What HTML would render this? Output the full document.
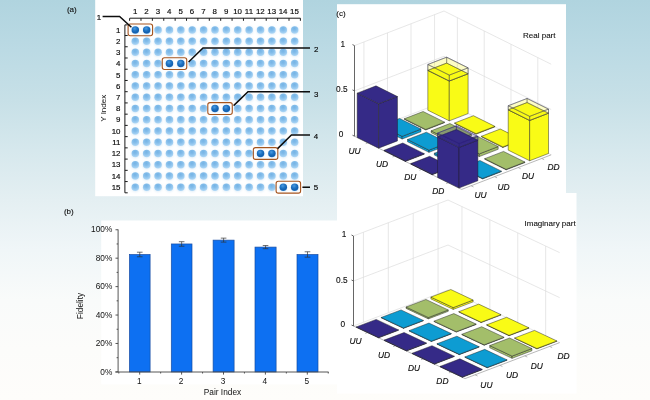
<!DOCTYPE html>
<html><head><meta charset="utf-8"><title>Figure</title>
<style>
html,body{margin:0;padding:0;background:#fff;}
body{width:650px;height:400px;overflow:hidden;font-family:"Liberation Sans",sans-serif;}
svg{display:block;}
</style></head><body>
<svg width="650" height="400" viewBox="0 0 650 400" font-family="'Liberation Sans', sans-serif">
<defs>
<linearGradient id="bg" x1="0" y1="0" x2="0" y2="1">
<stop offset="0" stop-color="#b0d4df"/>
<stop offset="0.125" stop-color="#bbdae4"/>
<stop offset="0.25" stop-color="#c7e0e7"/>
<stop offset="0.375" stop-color="#d6e8ed"/>
<stop offset="0.5" stop-color="#e4eff2"/>
<stop offset="0.625" stop-color="#f0f6f8"/>
<stop offset="0.75" stop-color="#f9fbfa"/>
<stop offset="0.875" stop-color="#fcfcfa"/>
<stop offset="1" stop-color="#fefdfa"/>
</linearGradient>
<radialGradient id="cl" cx="0.45" cy="0.3" r="0.8">
<stop offset="0" stop-color="#74b3e5"/>
<stop offset="0.35" stop-color="#84bdea"/>
<stop offset="0.7" stop-color="#9fcef2"/>
<stop offset="1" stop-color="#c0e0f8"/>
</radialGradient>
<radialGradient id="cd" cx="0.42" cy="0.32" r="0.7">
<stop offset="0" stop-color="#4a9be2"/>
<stop offset="0.45" stop-color="#1f73c3"/>
<stop offset="0.8" stop-color="#1560ae"/>
<stop offset="1" stop-color="#2b7ac8"/>
</radialGradient>
<filter id="blur" x="-50%" y="-50%" width="200%" height="200%"><feGaussianBlur stdDeviation="0.9"/></filter>
<filter id="soft" filterUnits="userSpaceOnUse" x="-10" y="-10" width="670" height="420"><feGaussianBlur stdDeviation="0.38"/></filter>
</defs>
<rect x="0" y="0" width="650" height="400" fill="url(#bg)"/>
<g filter="url(#soft)">
<rect x="95.2" y="-6" width="207.8" height="202.2" fill="#fff"/>
<rect x="337" y="4.2" width="229" height="190" fill="#fff"/>
<rect x="101.2" y="220.5" width="236" height="163.8" fill="#fff"/>
<rect x="337" y="193" width="239.5" height="200.5" fill="#fff"/>
<g font-size="7.6" fill="#111" stroke="#111" stroke-width="0.12">
<text x="71.8" y="12" text-anchor="middle" font-size="8">(a)</text>
<text x="68.8" y="214" text-anchor="middle" font-size="8">(b)</text>
<text x="341" y="15.5" text-anchor="middle" font-size="8">(c)</text>
</g>
<g filter="url(#blur)" fill="#c3def3" opacity="0.5">
<circle cx="135.3" cy="30.5" r="4.1"/>
<circle cx="146.69" cy="30.5" r="4.1"/>
<circle cx="158.07" cy="30.5" r="4.1"/>
<circle cx="169.46" cy="30.5" r="4.1"/>
<circle cx="180.84" cy="30.5" r="4.1"/>
<circle cx="192.23" cy="30.5" r="4.1"/>
<circle cx="203.61" cy="30.5" r="4.1"/>
<circle cx="215" cy="30.5" r="4.1"/>
<circle cx="226.38" cy="30.5" r="4.1"/>
<circle cx="237.77" cy="30.5" r="4.1"/>
<circle cx="249.15" cy="30.5" r="4.1"/>
<circle cx="260.54" cy="30.5" r="4.1"/>
<circle cx="271.92" cy="30.5" r="4.1"/>
<circle cx="283.31" cy="30.5" r="4.1"/>
<circle cx="294.69" cy="30.5" r="4.1"/>
<circle cx="135.3" cy="41.73" r="4.1"/>
<circle cx="146.69" cy="41.73" r="4.1"/>
<circle cx="158.07" cy="41.73" r="4.1"/>
<circle cx="169.46" cy="41.73" r="4.1"/>
<circle cx="180.84" cy="41.73" r="4.1"/>
<circle cx="192.23" cy="41.73" r="4.1"/>
<circle cx="203.61" cy="41.73" r="4.1"/>
<circle cx="215" cy="41.73" r="4.1"/>
<circle cx="226.38" cy="41.73" r="4.1"/>
<circle cx="237.77" cy="41.73" r="4.1"/>
<circle cx="249.15" cy="41.73" r="4.1"/>
<circle cx="260.54" cy="41.73" r="4.1"/>
<circle cx="271.92" cy="41.73" r="4.1"/>
<circle cx="283.31" cy="41.73" r="4.1"/>
<circle cx="294.69" cy="41.73" r="4.1"/>
<circle cx="135.3" cy="52.97" r="4.1"/>
<circle cx="146.69" cy="52.97" r="4.1"/>
<circle cx="158.07" cy="52.97" r="4.1"/>
<circle cx="169.46" cy="52.97" r="4.1"/>
<circle cx="180.84" cy="52.97" r="4.1"/>
<circle cx="192.23" cy="52.97" r="4.1"/>
<circle cx="203.61" cy="52.97" r="4.1"/>
<circle cx="215" cy="52.97" r="4.1"/>
<circle cx="226.38" cy="52.97" r="4.1"/>
<circle cx="237.77" cy="52.97" r="4.1"/>
<circle cx="249.15" cy="52.97" r="4.1"/>
<circle cx="260.54" cy="52.97" r="4.1"/>
<circle cx="271.92" cy="52.97" r="4.1"/>
<circle cx="283.31" cy="52.97" r="4.1"/>
<circle cx="294.69" cy="52.97" r="4.1"/>
<circle cx="135.3" cy="64.2" r="4.1"/>
<circle cx="146.69" cy="64.2" r="4.1"/>
<circle cx="158.07" cy="64.2" r="4.1"/>
<circle cx="169.46" cy="64.2" r="4.1"/>
<circle cx="180.84" cy="64.2" r="4.1"/>
<circle cx="192.23" cy="64.2" r="4.1"/>
<circle cx="203.61" cy="64.2" r="4.1"/>
<circle cx="215" cy="64.2" r="4.1"/>
<circle cx="226.38" cy="64.2" r="4.1"/>
<circle cx="237.77" cy="64.2" r="4.1"/>
<circle cx="249.15" cy="64.2" r="4.1"/>
<circle cx="260.54" cy="64.2" r="4.1"/>
<circle cx="271.92" cy="64.2" r="4.1"/>
<circle cx="283.31" cy="64.2" r="4.1"/>
<circle cx="294.69" cy="64.2" r="4.1"/>
<circle cx="135.3" cy="75.44" r="4.1"/>
<circle cx="146.69" cy="75.44" r="4.1"/>
<circle cx="158.07" cy="75.44" r="4.1"/>
<circle cx="169.46" cy="75.44" r="4.1"/>
<circle cx="180.84" cy="75.44" r="4.1"/>
<circle cx="192.23" cy="75.44" r="4.1"/>
<circle cx="203.61" cy="75.44" r="4.1"/>
<circle cx="215" cy="75.44" r="4.1"/>
<circle cx="226.38" cy="75.44" r="4.1"/>
<circle cx="237.77" cy="75.44" r="4.1"/>
<circle cx="249.15" cy="75.44" r="4.1"/>
<circle cx="260.54" cy="75.44" r="4.1"/>
<circle cx="271.92" cy="75.44" r="4.1"/>
<circle cx="283.31" cy="75.44" r="4.1"/>
<circle cx="294.69" cy="75.44" r="4.1"/>
<circle cx="135.3" cy="86.67" r="4.1"/>
<circle cx="146.69" cy="86.67" r="4.1"/>
<circle cx="158.07" cy="86.67" r="4.1"/>
<circle cx="169.46" cy="86.67" r="4.1"/>
<circle cx="180.84" cy="86.67" r="4.1"/>
<circle cx="192.23" cy="86.67" r="4.1"/>
<circle cx="203.61" cy="86.67" r="4.1"/>
<circle cx="215" cy="86.67" r="4.1"/>
<circle cx="226.38" cy="86.67" r="4.1"/>
<circle cx="237.77" cy="86.67" r="4.1"/>
<circle cx="249.15" cy="86.67" r="4.1"/>
<circle cx="260.54" cy="86.67" r="4.1"/>
<circle cx="271.92" cy="86.67" r="4.1"/>
<circle cx="283.31" cy="86.67" r="4.1"/>
<circle cx="294.69" cy="86.67" r="4.1"/>
<circle cx="135.3" cy="97.91" r="4.1"/>
<circle cx="146.69" cy="97.91" r="4.1"/>
<circle cx="158.07" cy="97.91" r="4.1"/>
<circle cx="169.46" cy="97.91" r="4.1"/>
<circle cx="180.84" cy="97.91" r="4.1"/>
<circle cx="192.23" cy="97.91" r="4.1"/>
<circle cx="203.61" cy="97.91" r="4.1"/>
<circle cx="215" cy="97.91" r="4.1"/>
<circle cx="226.38" cy="97.91" r="4.1"/>
<circle cx="237.77" cy="97.91" r="4.1"/>
<circle cx="249.15" cy="97.91" r="4.1"/>
<circle cx="260.54" cy="97.91" r="4.1"/>
<circle cx="271.92" cy="97.91" r="4.1"/>
<circle cx="283.31" cy="97.91" r="4.1"/>
<circle cx="294.69" cy="97.91" r="4.1"/>
<circle cx="135.3" cy="109.14" r="4.1"/>
<circle cx="146.69" cy="109.14" r="4.1"/>
<circle cx="158.07" cy="109.14" r="4.1"/>
<circle cx="169.46" cy="109.14" r="4.1"/>
<circle cx="180.84" cy="109.14" r="4.1"/>
<circle cx="192.23" cy="109.14" r="4.1"/>
<circle cx="203.61" cy="109.14" r="4.1"/>
<circle cx="215" cy="109.14" r="4.1"/>
<circle cx="226.38" cy="109.14" r="4.1"/>
<circle cx="237.77" cy="109.14" r="4.1"/>
<circle cx="249.15" cy="109.14" r="4.1"/>
<circle cx="260.54" cy="109.14" r="4.1"/>
<circle cx="271.92" cy="109.14" r="4.1"/>
<circle cx="283.31" cy="109.14" r="4.1"/>
<circle cx="294.69" cy="109.14" r="4.1"/>
<circle cx="135.3" cy="120.38" r="4.1"/>
<circle cx="146.69" cy="120.38" r="4.1"/>
<circle cx="158.07" cy="120.38" r="4.1"/>
<circle cx="169.46" cy="120.38" r="4.1"/>
<circle cx="180.84" cy="120.38" r="4.1"/>
<circle cx="192.23" cy="120.38" r="4.1"/>
<circle cx="203.61" cy="120.38" r="4.1"/>
<circle cx="215" cy="120.38" r="4.1"/>
<circle cx="226.38" cy="120.38" r="4.1"/>
<circle cx="237.77" cy="120.38" r="4.1"/>
<circle cx="249.15" cy="120.38" r="4.1"/>
<circle cx="260.54" cy="120.38" r="4.1"/>
<circle cx="271.92" cy="120.38" r="4.1"/>
<circle cx="283.31" cy="120.38" r="4.1"/>
<circle cx="294.69" cy="120.38" r="4.1"/>
<circle cx="135.3" cy="131.61" r="4.1"/>
<circle cx="146.69" cy="131.61" r="4.1"/>
<circle cx="158.07" cy="131.61" r="4.1"/>
<circle cx="169.46" cy="131.61" r="4.1"/>
<circle cx="180.84" cy="131.61" r="4.1"/>
<circle cx="192.23" cy="131.61" r="4.1"/>
<circle cx="203.61" cy="131.61" r="4.1"/>
<circle cx="215" cy="131.61" r="4.1"/>
<circle cx="226.38" cy="131.61" r="4.1"/>
<circle cx="237.77" cy="131.61" r="4.1"/>
<circle cx="249.15" cy="131.61" r="4.1"/>
<circle cx="260.54" cy="131.61" r="4.1"/>
<circle cx="271.92" cy="131.61" r="4.1"/>
<circle cx="283.31" cy="131.61" r="4.1"/>
<circle cx="294.69" cy="131.61" r="4.1"/>
<circle cx="135.3" cy="142.85" r="4.1"/>
<circle cx="146.69" cy="142.85" r="4.1"/>
<circle cx="158.07" cy="142.85" r="4.1"/>
<circle cx="169.46" cy="142.85" r="4.1"/>
<circle cx="180.84" cy="142.85" r="4.1"/>
<circle cx="192.23" cy="142.85" r="4.1"/>
<circle cx="203.61" cy="142.85" r="4.1"/>
<circle cx="215" cy="142.85" r="4.1"/>
<circle cx="226.38" cy="142.85" r="4.1"/>
<circle cx="237.77" cy="142.85" r="4.1"/>
<circle cx="249.15" cy="142.85" r="4.1"/>
<circle cx="260.54" cy="142.85" r="4.1"/>
<circle cx="271.92" cy="142.85" r="4.1"/>
<circle cx="283.31" cy="142.85" r="4.1"/>
<circle cx="294.69" cy="142.85" r="4.1"/>
<circle cx="135.3" cy="154.08" r="4.1"/>
<circle cx="146.69" cy="154.08" r="4.1"/>
<circle cx="158.07" cy="154.08" r="4.1"/>
<circle cx="169.46" cy="154.08" r="4.1"/>
<circle cx="180.84" cy="154.08" r="4.1"/>
<circle cx="192.23" cy="154.08" r="4.1"/>
<circle cx="203.61" cy="154.08" r="4.1"/>
<circle cx="215" cy="154.08" r="4.1"/>
<circle cx="226.38" cy="154.08" r="4.1"/>
<circle cx="237.77" cy="154.08" r="4.1"/>
<circle cx="249.15" cy="154.08" r="4.1"/>
<circle cx="260.54" cy="154.08" r="4.1"/>
<circle cx="271.92" cy="154.08" r="4.1"/>
<circle cx="283.31" cy="154.08" r="4.1"/>
<circle cx="294.69" cy="154.08" r="4.1"/>
<circle cx="135.3" cy="165.32" r="4.1"/>
<circle cx="146.69" cy="165.32" r="4.1"/>
<circle cx="158.07" cy="165.32" r="4.1"/>
<circle cx="169.46" cy="165.32" r="4.1"/>
<circle cx="180.84" cy="165.32" r="4.1"/>
<circle cx="192.23" cy="165.32" r="4.1"/>
<circle cx="203.61" cy="165.32" r="4.1"/>
<circle cx="215" cy="165.32" r="4.1"/>
<circle cx="226.38" cy="165.32" r="4.1"/>
<circle cx="237.77" cy="165.32" r="4.1"/>
<circle cx="249.15" cy="165.32" r="4.1"/>
<circle cx="260.54" cy="165.32" r="4.1"/>
<circle cx="271.92" cy="165.32" r="4.1"/>
<circle cx="283.31" cy="165.32" r="4.1"/>
<circle cx="294.69" cy="165.32" r="4.1"/>
<circle cx="135.3" cy="176.56" r="4.1"/>
<circle cx="146.69" cy="176.56" r="4.1"/>
<circle cx="158.07" cy="176.56" r="4.1"/>
<circle cx="169.46" cy="176.56" r="4.1"/>
<circle cx="180.84" cy="176.56" r="4.1"/>
<circle cx="192.23" cy="176.56" r="4.1"/>
<circle cx="203.61" cy="176.56" r="4.1"/>
<circle cx="215" cy="176.56" r="4.1"/>
<circle cx="226.38" cy="176.56" r="4.1"/>
<circle cx="237.77" cy="176.56" r="4.1"/>
<circle cx="249.15" cy="176.56" r="4.1"/>
<circle cx="260.54" cy="176.56" r="4.1"/>
<circle cx="271.92" cy="176.56" r="4.1"/>
<circle cx="283.31" cy="176.56" r="4.1"/>
<circle cx="294.69" cy="176.56" r="4.1"/>
<circle cx="135.3" cy="187.79" r="4.1"/>
<circle cx="146.69" cy="187.79" r="4.1"/>
<circle cx="158.07" cy="187.79" r="4.1"/>
<circle cx="169.46" cy="187.79" r="4.1"/>
<circle cx="180.84" cy="187.79" r="4.1"/>
<circle cx="192.23" cy="187.79" r="4.1"/>
<circle cx="203.61" cy="187.79" r="4.1"/>
<circle cx="215" cy="187.79" r="4.1"/>
<circle cx="226.38" cy="187.79" r="4.1"/>
<circle cx="237.77" cy="187.79" r="4.1"/>
<circle cx="249.15" cy="187.79" r="4.1"/>
<circle cx="260.54" cy="187.79" r="4.1"/>
<circle cx="271.92" cy="187.79" r="4.1"/>
<circle cx="283.31" cy="187.79" r="4.1"/>
<circle cx="294.69" cy="187.79" r="4.1"/>
</g>
<circle cx="135.3" cy="29.9" r="3.75" fill="url(#cd)"/>
<circle cx="146.69" cy="29.9" r="3.75" fill="url(#cd)"/>
<circle cx="158.07" cy="29.9" r="3.75" fill="url(#cl)"/>
<circle cx="169.46" cy="29.9" r="3.75" fill="url(#cl)"/>
<circle cx="180.84" cy="29.9" r="3.75" fill="url(#cl)"/>
<circle cx="192.23" cy="29.9" r="3.75" fill="url(#cl)"/>
<circle cx="203.61" cy="29.9" r="3.75" fill="url(#cl)"/>
<circle cx="215" cy="29.9" r="3.75" fill="url(#cl)"/>
<circle cx="226.38" cy="29.9" r="3.75" fill="url(#cl)"/>
<circle cx="237.77" cy="29.9" r="3.75" fill="url(#cl)"/>
<circle cx="249.15" cy="29.9" r="3.75" fill="url(#cl)"/>
<circle cx="260.54" cy="29.9" r="3.75" fill="url(#cl)"/>
<circle cx="271.92" cy="29.9" r="3.75" fill="url(#cl)"/>
<circle cx="283.31" cy="29.9" r="3.75" fill="url(#cl)"/>
<circle cx="294.69" cy="29.9" r="3.75" fill="url(#cl)"/>
<circle cx="135.3" cy="41.13" r="3.75" fill="url(#cl)"/>
<circle cx="146.69" cy="41.13" r="3.75" fill="url(#cl)"/>
<circle cx="158.07" cy="41.13" r="3.75" fill="url(#cl)"/>
<circle cx="169.46" cy="41.13" r="3.75" fill="url(#cl)"/>
<circle cx="180.84" cy="41.13" r="3.75" fill="url(#cl)"/>
<circle cx="192.23" cy="41.13" r="3.75" fill="url(#cl)"/>
<circle cx="203.61" cy="41.13" r="3.75" fill="url(#cl)"/>
<circle cx="215" cy="41.13" r="3.75" fill="url(#cl)"/>
<circle cx="226.38" cy="41.13" r="3.75" fill="url(#cl)"/>
<circle cx="237.77" cy="41.13" r="3.75" fill="url(#cl)"/>
<circle cx="249.15" cy="41.13" r="3.75" fill="url(#cl)"/>
<circle cx="260.54" cy="41.13" r="3.75" fill="url(#cl)"/>
<circle cx="271.92" cy="41.13" r="3.75" fill="url(#cl)"/>
<circle cx="283.31" cy="41.13" r="3.75" fill="url(#cl)"/>
<circle cx="294.69" cy="41.13" r="3.75" fill="url(#cl)"/>
<circle cx="135.3" cy="52.37" r="3.75" fill="url(#cl)"/>
<circle cx="146.69" cy="52.37" r="3.75" fill="url(#cl)"/>
<circle cx="158.07" cy="52.37" r="3.75" fill="url(#cl)"/>
<circle cx="169.46" cy="52.37" r="3.75" fill="url(#cl)"/>
<circle cx="180.84" cy="52.37" r="3.75" fill="url(#cl)"/>
<circle cx="192.23" cy="52.37" r="3.75" fill="url(#cl)"/>
<circle cx="203.61" cy="52.37" r="3.75" fill="url(#cl)"/>
<circle cx="215" cy="52.37" r="3.75" fill="url(#cl)"/>
<circle cx="226.38" cy="52.37" r="3.75" fill="url(#cl)"/>
<circle cx="237.77" cy="52.37" r="3.75" fill="url(#cl)"/>
<circle cx="249.15" cy="52.37" r="3.75" fill="url(#cl)"/>
<circle cx="260.54" cy="52.37" r="3.75" fill="url(#cl)"/>
<circle cx="271.92" cy="52.37" r="3.75" fill="url(#cl)"/>
<circle cx="283.31" cy="52.37" r="3.75" fill="url(#cl)"/>
<circle cx="294.69" cy="52.37" r="3.75" fill="url(#cl)"/>
<circle cx="135.3" cy="63.6" r="3.75" fill="url(#cl)"/>
<circle cx="146.69" cy="63.6" r="3.75" fill="url(#cl)"/>
<circle cx="158.07" cy="63.6" r="3.75" fill="url(#cl)"/>
<circle cx="169.46" cy="63.6" r="3.75" fill="url(#cd)"/>
<circle cx="180.84" cy="63.6" r="3.75" fill="url(#cd)"/>
<circle cx="192.23" cy="63.6" r="3.75" fill="url(#cl)"/>
<circle cx="203.61" cy="63.6" r="3.75" fill="url(#cl)"/>
<circle cx="215" cy="63.6" r="3.75" fill="url(#cl)"/>
<circle cx="226.38" cy="63.6" r="3.75" fill="url(#cl)"/>
<circle cx="237.77" cy="63.6" r="3.75" fill="url(#cl)"/>
<circle cx="249.15" cy="63.6" r="3.75" fill="url(#cl)"/>
<circle cx="260.54" cy="63.6" r="3.75" fill="url(#cl)"/>
<circle cx="271.92" cy="63.6" r="3.75" fill="url(#cl)"/>
<circle cx="283.31" cy="63.6" r="3.75" fill="url(#cl)"/>
<circle cx="294.69" cy="63.6" r="3.75" fill="url(#cl)"/>
<circle cx="135.3" cy="74.84" r="3.75" fill="url(#cl)"/>
<circle cx="146.69" cy="74.84" r="3.75" fill="url(#cl)"/>
<circle cx="158.07" cy="74.84" r="3.75" fill="url(#cl)"/>
<circle cx="169.46" cy="74.84" r="3.75" fill="url(#cl)"/>
<circle cx="180.84" cy="74.84" r="3.75" fill="url(#cl)"/>
<circle cx="192.23" cy="74.84" r="3.75" fill="url(#cl)"/>
<circle cx="203.61" cy="74.84" r="3.75" fill="url(#cl)"/>
<circle cx="215" cy="74.84" r="3.75" fill="url(#cl)"/>
<circle cx="226.38" cy="74.84" r="3.75" fill="url(#cl)"/>
<circle cx="237.77" cy="74.84" r="3.75" fill="url(#cl)"/>
<circle cx="249.15" cy="74.84" r="3.75" fill="url(#cl)"/>
<circle cx="260.54" cy="74.84" r="3.75" fill="url(#cl)"/>
<circle cx="271.92" cy="74.84" r="3.75" fill="url(#cl)"/>
<circle cx="283.31" cy="74.84" r="3.75" fill="url(#cl)"/>
<circle cx="294.69" cy="74.84" r="3.75" fill="url(#cl)"/>
<circle cx="135.3" cy="86.07" r="3.75" fill="url(#cl)"/>
<circle cx="146.69" cy="86.07" r="3.75" fill="url(#cl)"/>
<circle cx="158.07" cy="86.07" r="3.75" fill="url(#cl)"/>
<circle cx="169.46" cy="86.07" r="3.75" fill="url(#cl)"/>
<circle cx="180.84" cy="86.07" r="3.75" fill="url(#cl)"/>
<circle cx="192.23" cy="86.07" r="3.75" fill="url(#cl)"/>
<circle cx="203.61" cy="86.07" r="3.75" fill="url(#cl)"/>
<circle cx="215" cy="86.07" r="3.75" fill="url(#cl)"/>
<circle cx="226.38" cy="86.07" r="3.75" fill="url(#cl)"/>
<circle cx="237.77" cy="86.07" r="3.75" fill="url(#cl)"/>
<circle cx="249.15" cy="86.07" r="3.75" fill="url(#cl)"/>
<circle cx="260.54" cy="86.07" r="3.75" fill="url(#cl)"/>
<circle cx="271.92" cy="86.07" r="3.75" fill="url(#cl)"/>
<circle cx="283.31" cy="86.07" r="3.75" fill="url(#cl)"/>
<circle cx="294.69" cy="86.07" r="3.75" fill="url(#cl)"/>
<circle cx="135.3" cy="97.31" r="3.75" fill="url(#cl)"/>
<circle cx="146.69" cy="97.31" r="3.75" fill="url(#cl)"/>
<circle cx="158.07" cy="97.31" r="3.75" fill="url(#cl)"/>
<circle cx="169.46" cy="97.31" r="3.75" fill="url(#cl)"/>
<circle cx="180.84" cy="97.31" r="3.75" fill="url(#cl)"/>
<circle cx="192.23" cy="97.31" r="3.75" fill="url(#cl)"/>
<circle cx="203.61" cy="97.31" r="3.75" fill="url(#cl)"/>
<circle cx="215" cy="97.31" r="3.75" fill="url(#cl)"/>
<circle cx="226.38" cy="97.31" r="3.75" fill="url(#cl)"/>
<circle cx="237.77" cy="97.31" r="3.75" fill="url(#cl)"/>
<circle cx="249.15" cy="97.31" r="3.75" fill="url(#cl)"/>
<circle cx="260.54" cy="97.31" r="3.75" fill="url(#cl)"/>
<circle cx="271.92" cy="97.31" r="3.75" fill="url(#cl)"/>
<circle cx="283.31" cy="97.31" r="3.75" fill="url(#cl)"/>
<circle cx="294.69" cy="97.31" r="3.75" fill="url(#cl)"/>
<circle cx="135.3" cy="108.54" r="3.75" fill="url(#cl)"/>
<circle cx="146.69" cy="108.54" r="3.75" fill="url(#cl)"/>
<circle cx="158.07" cy="108.54" r="3.75" fill="url(#cl)"/>
<circle cx="169.46" cy="108.54" r="3.75" fill="url(#cl)"/>
<circle cx="180.84" cy="108.54" r="3.75" fill="url(#cl)"/>
<circle cx="192.23" cy="108.54" r="3.75" fill="url(#cl)"/>
<circle cx="203.61" cy="108.54" r="3.75" fill="url(#cl)"/>
<circle cx="215" cy="108.54" r="3.75" fill="url(#cd)"/>
<circle cx="226.38" cy="108.54" r="3.75" fill="url(#cd)"/>
<circle cx="237.77" cy="108.54" r="3.75" fill="url(#cl)"/>
<circle cx="249.15" cy="108.54" r="3.75" fill="url(#cl)"/>
<circle cx="260.54" cy="108.54" r="3.75" fill="url(#cl)"/>
<circle cx="271.92" cy="108.54" r="3.75" fill="url(#cl)"/>
<circle cx="283.31" cy="108.54" r="3.75" fill="url(#cl)"/>
<circle cx="294.69" cy="108.54" r="3.75" fill="url(#cl)"/>
<circle cx="135.3" cy="119.78" r="3.75" fill="url(#cl)"/>
<circle cx="146.69" cy="119.78" r="3.75" fill="url(#cl)"/>
<circle cx="158.07" cy="119.78" r="3.75" fill="url(#cl)"/>
<circle cx="169.46" cy="119.78" r="3.75" fill="url(#cl)"/>
<circle cx="180.84" cy="119.78" r="3.75" fill="url(#cl)"/>
<circle cx="192.23" cy="119.78" r="3.75" fill="url(#cl)"/>
<circle cx="203.61" cy="119.78" r="3.75" fill="url(#cl)"/>
<circle cx="215" cy="119.78" r="3.75" fill="url(#cl)"/>
<circle cx="226.38" cy="119.78" r="3.75" fill="url(#cl)"/>
<circle cx="237.77" cy="119.78" r="3.75" fill="url(#cl)"/>
<circle cx="249.15" cy="119.78" r="3.75" fill="url(#cl)"/>
<circle cx="260.54" cy="119.78" r="3.75" fill="url(#cl)"/>
<circle cx="271.92" cy="119.78" r="3.75" fill="url(#cl)"/>
<circle cx="283.31" cy="119.78" r="3.75" fill="url(#cl)"/>
<circle cx="294.69" cy="119.78" r="3.75" fill="url(#cl)"/>
<circle cx="135.3" cy="131.01" r="3.75" fill="url(#cl)"/>
<circle cx="146.69" cy="131.01" r="3.75" fill="url(#cl)"/>
<circle cx="158.07" cy="131.01" r="3.75" fill="url(#cl)"/>
<circle cx="169.46" cy="131.01" r="3.75" fill="url(#cl)"/>
<circle cx="180.84" cy="131.01" r="3.75" fill="url(#cl)"/>
<circle cx="192.23" cy="131.01" r="3.75" fill="url(#cl)"/>
<circle cx="203.61" cy="131.01" r="3.75" fill="url(#cl)"/>
<circle cx="215" cy="131.01" r="3.75" fill="url(#cl)"/>
<circle cx="226.38" cy="131.01" r="3.75" fill="url(#cl)"/>
<circle cx="237.77" cy="131.01" r="3.75" fill="url(#cl)"/>
<circle cx="249.15" cy="131.01" r="3.75" fill="url(#cl)"/>
<circle cx="260.54" cy="131.01" r="3.75" fill="url(#cl)"/>
<circle cx="271.92" cy="131.01" r="3.75" fill="url(#cl)"/>
<circle cx="283.31" cy="131.01" r="3.75" fill="url(#cl)"/>
<circle cx="294.69" cy="131.01" r="3.75" fill="url(#cl)"/>
<circle cx="135.3" cy="142.25" r="3.75" fill="url(#cl)"/>
<circle cx="146.69" cy="142.25" r="3.75" fill="url(#cl)"/>
<circle cx="158.07" cy="142.25" r="3.75" fill="url(#cl)"/>
<circle cx="169.46" cy="142.25" r="3.75" fill="url(#cl)"/>
<circle cx="180.84" cy="142.25" r="3.75" fill="url(#cl)"/>
<circle cx="192.23" cy="142.25" r="3.75" fill="url(#cl)"/>
<circle cx="203.61" cy="142.25" r="3.75" fill="url(#cl)"/>
<circle cx="215" cy="142.25" r="3.75" fill="url(#cl)"/>
<circle cx="226.38" cy="142.25" r="3.75" fill="url(#cl)"/>
<circle cx="237.77" cy="142.25" r="3.75" fill="url(#cl)"/>
<circle cx="249.15" cy="142.25" r="3.75" fill="url(#cl)"/>
<circle cx="260.54" cy="142.25" r="3.75" fill="url(#cl)"/>
<circle cx="271.92" cy="142.25" r="3.75" fill="url(#cl)"/>
<circle cx="283.31" cy="142.25" r="3.75" fill="url(#cl)"/>
<circle cx="294.69" cy="142.25" r="3.75" fill="url(#cl)"/>
<circle cx="135.3" cy="153.48" r="3.75" fill="url(#cl)"/>
<circle cx="146.69" cy="153.48" r="3.75" fill="url(#cl)"/>
<circle cx="158.07" cy="153.48" r="3.75" fill="url(#cl)"/>
<circle cx="169.46" cy="153.48" r="3.75" fill="url(#cl)"/>
<circle cx="180.84" cy="153.48" r="3.75" fill="url(#cl)"/>
<circle cx="192.23" cy="153.48" r="3.75" fill="url(#cl)"/>
<circle cx="203.61" cy="153.48" r="3.75" fill="url(#cl)"/>
<circle cx="215" cy="153.48" r="3.75" fill="url(#cl)"/>
<circle cx="226.38" cy="153.48" r="3.75" fill="url(#cl)"/>
<circle cx="237.77" cy="153.48" r="3.75" fill="url(#cl)"/>
<circle cx="249.15" cy="153.48" r="3.75" fill="url(#cl)"/>
<circle cx="260.54" cy="153.48" r="3.75" fill="url(#cd)"/>
<circle cx="271.92" cy="153.48" r="3.75" fill="url(#cd)"/>
<circle cx="283.31" cy="153.48" r="3.75" fill="url(#cl)"/>
<circle cx="294.69" cy="153.48" r="3.75" fill="url(#cl)"/>
<circle cx="135.3" cy="164.72" r="3.75" fill="url(#cl)"/>
<circle cx="146.69" cy="164.72" r="3.75" fill="url(#cl)"/>
<circle cx="158.07" cy="164.72" r="3.75" fill="url(#cl)"/>
<circle cx="169.46" cy="164.72" r="3.75" fill="url(#cl)"/>
<circle cx="180.84" cy="164.72" r="3.75" fill="url(#cl)"/>
<circle cx="192.23" cy="164.72" r="3.75" fill="url(#cl)"/>
<circle cx="203.61" cy="164.72" r="3.75" fill="url(#cl)"/>
<circle cx="215" cy="164.72" r="3.75" fill="url(#cl)"/>
<circle cx="226.38" cy="164.72" r="3.75" fill="url(#cl)"/>
<circle cx="237.77" cy="164.72" r="3.75" fill="url(#cl)"/>
<circle cx="249.15" cy="164.72" r="3.75" fill="url(#cl)"/>
<circle cx="260.54" cy="164.72" r="3.75" fill="url(#cl)"/>
<circle cx="271.92" cy="164.72" r="3.75" fill="url(#cl)"/>
<circle cx="283.31" cy="164.72" r="3.75" fill="url(#cl)"/>
<circle cx="294.69" cy="164.72" r="3.75" fill="url(#cl)"/>
<circle cx="135.3" cy="175.96" r="3.75" fill="url(#cl)"/>
<circle cx="146.69" cy="175.96" r="3.75" fill="url(#cl)"/>
<circle cx="158.07" cy="175.96" r="3.75" fill="url(#cl)"/>
<circle cx="169.46" cy="175.96" r="3.75" fill="url(#cl)"/>
<circle cx="180.84" cy="175.96" r="3.75" fill="url(#cl)"/>
<circle cx="192.23" cy="175.96" r="3.75" fill="url(#cl)"/>
<circle cx="203.61" cy="175.96" r="3.75" fill="url(#cl)"/>
<circle cx="215" cy="175.96" r="3.75" fill="url(#cl)"/>
<circle cx="226.38" cy="175.96" r="3.75" fill="url(#cl)"/>
<circle cx="237.77" cy="175.96" r="3.75" fill="url(#cl)"/>
<circle cx="249.15" cy="175.96" r="3.75" fill="url(#cl)"/>
<circle cx="260.54" cy="175.96" r="3.75" fill="url(#cl)"/>
<circle cx="271.92" cy="175.96" r="3.75" fill="url(#cl)"/>
<circle cx="283.31" cy="175.96" r="3.75" fill="url(#cl)"/>
<circle cx="294.69" cy="175.96" r="3.75" fill="url(#cl)"/>
<circle cx="135.3" cy="187.19" r="3.75" fill="url(#cl)"/>
<circle cx="146.69" cy="187.19" r="3.75" fill="url(#cl)"/>
<circle cx="158.07" cy="187.19" r="3.75" fill="url(#cl)"/>
<circle cx="169.46" cy="187.19" r="3.75" fill="url(#cl)"/>
<circle cx="180.84" cy="187.19" r="3.75" fill="url(#cl)"/>
<circle cx="192.23" cy="187.19" r="3.75" fill="url(#cl)"/>
<circle cx="203.61" cy="187.19" r="3.75" fill="url(#cl)"/>
<circle cx="215" cy="187.19" r="3.75" fill="url(#cl)"/>
<circle cx="226.38" cy="187.19" r="3.75" fill="url(#cl)"/>
<circle cx="237.77" cy="187.19" r="3.75" fill="url(#cl)"/>
<circle cx="249.15" cy="187.19" r="3.75" fill="url(#cl)"/>
<circle cx="260.54" cy="187.19" r="3.75" fill="url(#cl)"/>
<circle cx="271.92" cy="187.19" r="3.75" fill="url(#cl)"/>
<circle cx="283.31" cy="187.19" r="3.75" fill="url(#cd)"/>
<circle cx="294.69" cy="187.19" r="3.75" fill="url(#cd)"/>
<path d="M129.81 18.2H300.38M129.61 18.2v2.6M140.99 18.2v2.6M152.38 18.2v2.6M163.76 18.2v2.6M175.15 18.2v2.6M186.53 18.2v2.6M197.92 18.2v2.6M209.3 18.2v2.6M220.69 18.2v2.6M232.07 18.2v2.6M243.46 18.2v2.6M254.84 18.2v2.6M266.23 18.2v2.6M277.61 18.2v2.6M289 18.2v2.6M300.38 18.2v2.6M124.9 24.88V192.81M124.9 24.88h2.8M124.9 35.52h2.8M124.9 46.75h2.8M124.9 57.99h2.8M124.9 69.22h2.8M124.9 80.46h2.8M124.9 91.69h2.8M124.9 102.93h2.8M124.9 114.16h2.8M124.9 125.4h2.8M124.9 136.63h2.8M124.9 147.87h2.8M124.9 159.1h2.8M124.9 170.34h2.8M124.9 181.57h2.8M124.9 192.81h2.8" stroke="#1a1a1a" stroke-width="1" fill="none"/>
<g font-size="7.9" fill="#0a0a0a" stroke="#0a0a0a" stroke-width="0.16" text-anchor="middle">
<text x="135.1" y="14">1</text>
<text x="146.49" y="14">2</text>
<text x="157.87" y="14">3</text>
<text x="169.26" y="14">4</text>
<text x="180.64" y="14">5</text>
<text x="192.03" y="14">6</text>
<text x="203.41" y="14">7</text>
<text x="214.8" y="14">8</text>
<text x="226.18" y="14">9</text>
<text x="237.57" y="14">10</text>
<text x="248.95" y="14">11</text>
<text x="260.34" y="14">12</text>
<text x="271.72" y="14">13</text>
<text x="283.11" y="14">14</text>
<text x="294.49" y="14">15</text>
</g>
<g font-size="7.9" fill="#0a0a0a" stroke="#0a0a0a" stroke-width="0.16" text-anchor="end">
<text x="120.5" y="32.6">1</text>
<text x="120.5" y="43.84">2</text>
<text x="120.5" y="55.07">3</text>
<text x="120.5" y="66.3">4</text>
<text x="120.5" y="77.54">5</text>
<text x="120.5" y="88.77">6</text>
<text x="120.5" y="100.01">7</text>
<text x="120.5" y="111.24">8</text>
<text x="120.5" y="122.48">9</text>
<text x="120.5" y="133.71">10</text>
<text x="120.5" y="144.95">11</text>
<text x="120.5" y="156.18">12</text>
<text x="120.5" y="167.42">13</text>
<text x="120.5" y="178.66">14</text>
<text x="120.5" y="189.89">15</text>
</g>
<text transform="translate(106.2 108.3) rotate(-90)" text-anchor="middle" font-size="8" fill="#111">Y Index</text>
<text x="214" y="0.1" text-anchor="middle" font-size="8" fill="#666">X Index</text>
<rect x="128.1" y="24" width="24.48" height="11.8" rx="2.2" fill="none" stroke="#a5541f" stroke-width="1.1"/>
<rect x="162.26" y="57.7" width="24.48" height="11.8" rx="2.2" fill="none" stroke="#a5541f" stroke-width="1.1"/>
<rect x="207.8" y="102.64" width="24.48" height="11.8" rx="2.2" fill="none" stroke="#a5541f" stroke-width="1.1"/>
<rect x="253.34" y="147.58" width="24.48" height="11.8" rx="2.2" fill="none" stroke="#a5541f" stroke-width="1.1"/>
<rect x="276.11" y="181.29" width="24.48" height="11.8" rx="2.2" fill="none" stroke="#a5541f" stroke-width="1.1"/>
<path d="M102.6 16.5H119.6L131.4 27.3M188.6 62L203 48H310M233.6 105.6L248 91.8H310M277.6 148.6L291.4 135H310M302.4 187.2H310" stroke="#0d0d0d" stroke-width="1.5" fill="none" stroke-linejoin="miter"/>
<g font-size="7.9" fill="#0a0a0a" stroke="#0a0a0a" stroke-width="0.16" text-anchor="middle">
<text x="99" y="20.4">1</text>
<text x="316.2" y="51.8">2</text>
<text x="316.2" y="96.6">3</text>
<text x="316" y="139">4</text>
<text x="316" y="190.3">5</text>
</g>
<rect x="129.4" y="254.48" width="20.7" height="117.42" fill="#0a70f2" stroke="#1d4fa3" stroke-width="0.7"/>
<rect x="171.3" y="243.96" width="20.7" height="127.94" fill="#0a70f2" stroke="#1d4fa3" stroke-width="0.7"/>
<rect x="213.1" y="240.13" width="21" height="131.77" fill="#0a70f2" stroke="#1d4fa3" stroke-width="0.7"/>
<rect x="255" y="247.09" width="21.1" height="124.81" fill="#0a70f2" stroke="#1d4fa3" stroke-width="0.7"/>
<rect x="297" y="254.48" width="21" height="117.42" fill="#0a70f2" stroke="#1d4fa3" stroke-width="0.7"/>
<path d="M139.75 252.21V256.76M136.95 252.21h5.6M136.95 256.76h5.6M181.65 241.69V246.24M178.85 241.69h5.6M178.85 246.24h5.6M223.6 238.14V242.12M220.8 238.14h5.6M220.8 242.12h5.6M265.55 245.53V248.66M262.75 245.53h5.6M262.75 248.66h5.6M307.5 251.78V257.18M304.7 251.78h5.6M304.7 257.18h5.6" stroke="#333" stroke-width="0.7" fill="none"/>
<path d="M118.1 229.45V372M115.4 372H328.6M118.1 371.9h-2.6M118.1 357.69h-1.5M118.1 343.47h-2.6M118.1 329.25h-1.5M118.1 315.04h-2.6M118.1 300.82h-1.5M118.1 286.61h-2.6M118.1 272.39h-1.5M118.1 258.18h-2.6M118.1 243.96h-1.5M118.1 229.75h-2.6M139.7 372v2.6M160.65 372v1.5M181.6 372v2.6M202.55 372v1.5M223.5 372v2.6M244.45 372v1.5M265.4 372v2.6M286.35 372v1.5M307.3 372v2.6M328.25 372v1.5M118.8 372v1.5" stroke="#444" stroke-width="0.9" fill="none"/>
<g font-size="8.3" fill="#111" text-anchor="end">
<text x="112.3" y="374.6">0%</text>
<text x="112.3" y="346.17">20%</text>
<text x="112.3" y="317.74">40%</text>
<text x="112.3" y="289.31">60%</text>
<text x="112.3" y="260.88">80%</text>
<text x="112.3" y="232.45">100%</text>
</g>
<g font-size="8.3" fill="#111" text-anchor="middle">
<text x="139.3" y="384">1</text>
<text x="181.15" y="384">2</text>
<text x="223" y="384">3</text>
<text x="264.85" y="384">4</text>
<text x="306.7" y="384">5</text>
<text x="222.5" y="395.2">Pair Index</text>
<text transform="translate(83.2 306) rotate(-90)">Fidelity</text>
</g>
<g>
<path d="M363.92 132.56L363.92 41.96M387.47 123.46L387.47 32.86M411.02 114.36L411.02 23.76M434.57 105.26L434.57 14.66M457.39 108.27L457.39 17.67M484.19 121.57L484.19 30.97M510.99 134.87L510.99 44.27M537.79 148.17L537.79 57.57M354.5 136.2L443.99 101.62L551.19 154.82M354.5 90.9L443.99 56.32L551.19 109.52M354.5 45.6L443.99 11.02L551.19 64.22" stroke="#dcdcdc" stroke-width="0.7" fill="none"/>
<path d="M363.92 132.56L471.12 185.76M367.9 142.85L457.39 108.27M387.47 123.46L494.67 176.66M394.7 156.15L484.19 121.57M411.02 114.36L518.22 167.56M421.5 169.45L510.99 134.87M434.57 105.26L541.77 158.46M448.3 182.75L537.79 148.17" stroke="#ececec" stroke-width="0.6" fill="none"/>
<path d="M354.5 136.2L461.7 189.4L551.19 154.82M367.9 142.85l-2.12 0.82M471.12 185.76l2.41 1.2M394.7 156.15l-2.12 0.82M494.67 176.66l2.41 1.2M421.5 169.45l-2.12 0.82M518.22 167.56l2.41 1.2M448.3 182.75l-2.12 0.82M541.77 158.46l2.41 1.2" stroke="#9a9a9a" stroke-width="0.7" fill="none"/>
<path d="M354.5 136.2L354.5 45.6M354.5 136.2l-2 -1M354.5 90.9l-2 -1M354.5 45.6l-2 -1" stroke="#555" stroke-width="0.9" fill="none"/>
<polygon points="427.83,110.23 449.27,120.87 449.27,81.01 427.83,70.37" fill="#f9fb13" stroke="#1c1c1c" stroke-width="0.45" stroke-linejoin="round"/>
<polygon points="449.27,120.87 468.11,113.59 468.11,73.73 449.27,81.01" fill="#f9fb13" stroke="#1c1c1c" stroke-width="0.45" stroke-linejoin="round"/>
<polygon points="427.83,70.37 449.27,81.01 468.11,73.73 446.67,63.09" fill="#f9fb13" stroke="#1c1c1c" stroke-width="0.45" stroke-linejoin="round"/>
<polygon points="427.83,70.37 446.67,63.09 446.67,57.2 427.83,64.48" fill="#f9fb13" stroke="#3a3a55" stroke-width="0.4" stroke-linejoin="round" fill-opacity="0.13"/>
<polygon points="446.67,63.09 468.11,73.73 468.11,67.84 446.67,57.2" fill="#f9fb13" stroke="#3a3a55" stroke-width="0.4" stroke-linejoin="round" fill-opacity="0.13"/>
<polygon points="427.83,70.37 449.27,81.01 449.27,75.12 427.83,64.48" fill="#f9fb13" stroke="#3a3a55" stroke-width="0.4" stroke-linejoin="round" fill-opacity="0.13"/>
<polygon points="449.27,81.01 468.11,73.73 468.11,67.84 449.27,75.12" fill="#f9fb13" stroke="#3a3a55" stroke-width="0.4" stroke-linejoin="round" fill-opacity="0.13"/>
<polygon points="427.83,64.48 449.27,75.12 468.11,67.84 446.67,57.2" fill="#f9fb13" stroke="#3a3a55" stroke-width="0.4" stroke-linejoin="round" fill-opacity="0.13"/>
<polygon points="404.28,119.33 425.72,129.97 425.72,129.43 404.28,118.79" fill="#a3be6b" stroke="#1c1c1c" stroke-width="0.45" stroke-linejoin="round"/>
<polygon points="425.72,129.97 444.56,122.69 444.56,122.15 425.72,129.43" fill="#a3be6b" stroke="#1c1c1c" stroke-width="0.45" stroke-linejoin="round"/>
<polygon points="404.28,118.79 425.72,129.43 444.56,122.15 423.12,111.51" fill="#a3be6b" stroke="#1c1c1c" stroke-width="0.45" stroke-linejoin="round"/>
<polygon points="454.63,123.53 476.07,134.17 476.07,133.63 454.63,122.99" fill="#f9fb13" stroke="#1c1c1c" stroke-width="0.45" stroke-linejoin="round"/>
<polygon points="476.07,134.17 494.91,126.89 494.91,126.35 476.07,133.63" fill="#f9fb13" stroke="#1c1c1c" stroke-width="0.45" stroke-linejoin="round"/>
<polygon points="454.63,122.99 476.07,133.63 494.91,126.35 473.47,115.71" fill="#f9fb13" stroke="#1c1c1c" stroke-width="0.45" stroke-linejoin="round"/>
<polygon points="380.73,128.43 402.17,139.07 402.17,136.35 380.73,125.71" fill="#0a9cd2" stroke="#1c1c1c" stroke-width="0.45" stroke-linejoin="round"/>
<polygon points="402.17,139.07 421.01,131.79 421.01,129.07 402.17,136.35" fill="#0a9cd2" stroke="#1c1c1c" stroke-width="0.45" stroke-linejoin="round"/>
<polygon points="380.73,125.71 402.17,136.35 421.01,129.07 399.57,118.43" fill="#0a9cd2" stroke="#1c1c1c" stroke-width="0.45" stroke-linejoin="round"/>
<polygon points="431.08,132.63 452.52,143.27 452.52,141.46 431.08,130.82" fill="#a3be6b" stroke="#1c1c1c" stroke-width="0.45" stroke-linejoin="round"/>
<polygon points="452.52,143.27 471.36,135.99 471.36,134.18 452.52,141.46" fill="#a3be6b" stroke="#1c1c1c" stroke-width="0.45" stroke-linejoin="round"/>
<polygon points="431.08,130.82 452.52,141.46 471.36,134.18 449.92,123.54" fill="#a3be6b" stroke="#1c1c1c" stroke-width="0.45" stroke-linejoin="round"/>
<polygon points="481.43,136.83 502.87,147.47 502.87,146.93 481.43,136.29" fill="#f9fb13" stroke="#1c1c1c" stroke-width="0.45" stroke-linejoin="round"/>
<polygon points="502.87,147.47 521.71,140.19 521.71,139.65 502.87,146.93" fill="#f9fb13" stroke="#1c1c1c" stroke-width="0.45" stroke-linejoin="round"/>
<polygon points="481.43,136.29 502.87,146.93 521.71,139.65 500.27,129.01" fill="#f9fb13" stroke="#1c1c1c" stroke-width="0.45" stroke-linejoin="round"/>
<polygon points="357.18,137.53 378.62,148.17 378.62,103.78 357.18,93.14" fill="#352a87" stroke="#1c1c1c" stroke-width="0.45" stroke-linejoin="round"/>
<polygon points="378.62,148.17 397.46,140.89 397.46,96.5 378.62,103.78" fill="#352a87" stroke="#1c1c1c" stroke-width="0.45" stroke-linejoin="round"/>
<polygon points="357.18,93.14 378.62,103.78 397.46,96.5 376.02,85.86" fill="#352a87" stroke="#1c1c1c" stroke-width="0.45" stroke-linejoin="round"/>
<polygon points="407.53,141.73 428.97,152.37 428.97,150.11 407.53,139.47" fill="#0a9cd2" stroke="#1c1c1c" stroke-width="0.45" stroke-linejoin="round"/>
<polygon points="428.97,152.37 447.81,145.09 447.81,142.83 428.97,150.11" fill="#0a9cd2" stroke="#1c1c1c" stroke-width="0.45" stroke-linejoin="round"/>
<polygon points="407.53,139.47 428.97,150.11 447.81,142.83 426.37,132.19" fill="#0a9cd2" stroke="#1c1c1c" stroke-width="0.45" stroke-linejoin="round"/>
<polygon points="457.88,145.93 479.32,156.57 479.32,153.85 457.88,143.21" fill="#a3be6b" stroke="#1c1c1c" stroke-width="0.45" stroke-linejoin="round"/>
<polygon points="479.32,156.57 498.16,149.29 498.16,146.57 479.32,153.85" fill="#a3be6b" stroke="#1c1c1c" stroke-width="0.45" stroke-linejoin="round"/>
<polygon points="457.88,143.21 479.32,153.85 498.16,146.57 476.72,135.93" fill="#a3be6b" stroke="#1c1c1c" stroke-width="0.45" stroke-linejoin="round"/>
<polygon points="508.23,150.13 529.67,160.77 529.67,120.45 508.23,109.81" fill="#f9fb13" stroke="#1c1c1c" stroke-width="0.45" stroke-linejoin="round"/>
<polygon points="529.67,160.77 548.51,153.49 548.51,113.17 529.67,120.45" fill="#f9fb13" stroke="#1c1c1c" stroke-width="0.45" stroke-linejoin="round"/>
<polygon points="508.23,109.81 529.67,120.45 548.51,113.17 527.07,102.53" fill="#f9fb13" stroke="#1c1c1c" stroke-width="0.45" stroke-linejoin="round"/>
<polygon points="508.23,109.81 527.07,102.53 527.07,98.46 508.23,105.74" fill="#f9fb13" stroke="#3a3a55" stroke-width="0.4" stroke-linejoin="round" fill-opacity="0.13"/>
<polygon points="527.07,102.53 548.51,113.17 548.51,109.1 527.07,98.46" fill="#f9fb13" stroke="#3a3a55" stroke-width="0.4" stroke-linejoin="round" fill-opacity="0.13"/>
<polygon points="508.23,109.81 529.67,120.45 529.67,116.38 508.23,105.74" fill="#f9fb13" stroke="#3a3a55" stroke-width="0.4" stroke-linejoin="round" fill-opacity="0.13"/>
<polygon points="529.67,120.45 548.51,113.17 548.51,109.1 529.67,116.38" fill="#f9fb13" stroke="#3a3a55" stroke-width="0.4" stroke-linejoin="round" fill-opacity="0.13"/>
<polygon points="508.23,105.74 529.67,116.38 548.51,109.1 527.07,98.46" fill="#f9fb13" stroke="#3a3a55" stroke-width="0.4" stroke-linejoin="round" fill-opacity="0.13"/>
<polygon points="383.98,150.83 405.42,161.47 405.42,160.93 383.98,150.29" fill="#352a87" stroke="#1c1c1c" stroke-width="0.45" stroke-linejoin="round"/>
<polygon points="405.42,161.47 424.26,154.19 424.26,153.65 405.42,160.93" fill="#352a87" stroke="#1c1c1c" stroke-width="0.45" stroke-linejoin="round"/>
<polygon points="383.98,150.29 405.42,160.93 424.26,153.65 402.82,143.01" fill="#352a87" stroke="#1c1c1c" stroke-width="0.45" stroke-linejoin="round"/>
<polygon points="434.33,155.03 455.77,165.67 455.77,163.86 434.33,153.22" fill="#0a9cd2" stroke="#1c1c1c" stroke-width="0.45" stroke-linejoin="round"/>
<polygon points="455.77,165.67 474.61,158.39 474.61,156.58 455.77,163.86" fill="#0a9cd2" stroke="#1c1c1c" stroke-width="0.45" stroke-linejoin="round"/>
<polygon points="434.33,153.22 455.77,163.86 474.61,156.58 453.17,145.94" fill="#0a9cd2" stroke="#1c1c1c" stroke-width="0.45" stroke-linejoin="round"/>
<polygon points="484.68,159.23 506.12,169.87 506.12,169.33 484.68,158.69" fill="#a3be6b" stroke="#1c1c1c" stroke-width="0.45" stroke-linejoin="round"/>
<polygon points="506.12,169.87 524.96,162.59 524.96,162.05 506.12,169.33" fill="#a3be6b" stroke="#1c1c1c" stroke-width="0.45" stroke-linejoin="round"/>
<polygon points="484.68,158.69 506.12,169.33 524.96,162.05 503.52,151.41" fill="#a3be6b" stroke="#1c1c1c" stroke-width="0.45" stroke-linejoin="round"/>
<polygon points="410.78,164.13 432.22,174.77 432.22,174.23 410.78,163.59" fill="#352a87" stroke="#1c1c1c" stroke-width="0.45" stroke-linejoin="round"/>
<polygon points="432.22,174.77 451.06,167.49 451.06,166.95 432.22,174.23" fill="#352a87" stroke="#1c1c1c" stroke-width="0.45" stroke-linejoin="round"/>
<polygon points="410.78,163.59 432.22,174.23 451.06,166.95 429.62,156.31" fill="#352a87" stroke="#1c1c1c" stroke-width="0.45" stroke-linejoin="round"/>
<polygon points="461.13,168.33 482.57,178.97 482.57,178.43 461.13,167.79" fill="#0a9cd2" stroke="#1c1c1c" stroke-width="0.45" stroke-linejoin="round"/>
<polygon points="482.57,178.97 501.41,171.69 501.41,171.15 482.57,178.43" fill="#0a9cd2" stroke="#1c1c1c" stroke-width="0.45" stroke-linejoin="round"/>
<polygon points="461.13,167.79 482.57,178.43 501.41,171.15 479.97,160.51" fill="#0a9cd2" stroke="#1c1c1c" stroke-width="0.45" stroke-linejoin="round"/>
<polygon points="437.58,177.43 459.02,188.07 459.02,147.48 437.58,136.84" fill="#352a87" stroke="#1c1c1c" stroke-width="0.45" stroke-linejoin="round"/>
<polygon points="459.02,188.07 477.86,180.79 477.86,140.2 459.02,147.48" fill="#352a87" stroke="#1c1c1c" stroke-width="0.45" stroke-linejoin="round"/>
<polygon points="437.58,136.84 459.02,147.48 477.86,140.2 456.42,129.56" fill="#352a87" stroke="#1c1c1c" stroke-width="0.45" stroke-linejoin="round"/>
<polygon points="437.58,136.84 456.42,129.56 456.42,125.76 437.58,133.04" fill="#352a87" stroke="#2c2278" stroke-width="0.4" stroke-linejoin="round" fill-opacity="0.13"/>
<polygon points="456.42,129.56 477.86,140.2 477.86,136.4 456.42,125.76" fill="#352a87" stroke="#2c2278" stroke-width="0.4" stroke-linejoin="round" fill-opacity="0.13"/>
<polygon points="437.58,136.84 459.02,147.48 459.02,143.68 437.58,133.04" fill="#352a87" stroke="#2c2278" stroke-width="0.4" stroke-linejoin="round" fill-opacity="0.13"/>
<polygon points="459.02,147.48 477.86,140.2 477.86,136.4 459.02,143.68" fill="#352a87" stroke="#2c2278" stroke-width="0.4" stroke-linejoin="round" fill-opacity="0.13"/>
<polygon points="437.58,133.04 459.02,143.68 477.86,136.4 456.42,125.76" fill="#352a87" stroke="#2c2278" stroke-width="0.4" stroke-linejoin="round" fill-opacity="0.13"/>
<g font-size="8.3" fill="#111" stroke="#111" stroke-width="0.12" text-anchor="end">
<text x="345.2" y="47.4">1</text>
<text x="347.6" y="92">0.5</text>
<text x="343.4" y="137.4">0</text>
</g>
<g font-size="8.4" fill="#111" stroke="#111" stroke-width="0.15" text-anchor="middle" font-style="italic">
<text x="354.5" y="153.9">UU</text>
<text x="382" y="166.8">UD</text>
<text x="410.3" y="180.2">DU</text>
<text x="438.3" y="193.8">DD</text>
<text x="480.5" y="197.8">UU</text>
<text x="503.6" y="189.8">UD</text>
<text x="528" y="178.8">DU</text>
<text x="553.5" y="170.1">DD</text>
</g>
<text x="523" y="38.4" font-size="8" fill="#111" stroke="#111" stroke-width="0.1">Real part</text>
</g>
<svg x="327" y="193" width="249.5" height="200.5" viewBox="327 193 249.5 200.5" overflow="hidden"><g>
<path d="M363.45 322.21L363.45 232.21M388.32 312.74L388.32 222.74M413.19 303.27L413.19 213.27M438.06 293.8L438.06 203.8M461.96 296.59L461.96 206.59M489.86 309.74L489.86 219.74M517.76 322.89L517.76 232.89M545.66 336.04L545.66 246.04M353.5 326L448.01 290.01L559.61 342.61M353.5 281L448.01 245.01L559.61 297.61M353.5 236L448.01 200.01L559.61 252.61" stroke="#dcdcdc" stroke-width="0.7" fill="none"/>
<path d="M363.45 322.21L475.05 374.81M367.45 332.57L461.96 296.59M388.32 312.74L499.92 365.34M395.35 345.73L489.86 309.74M413.19 303.27L524.79 355.87M423.25 358.88L517.76 322.89M438.06 293.8L549.66 346.4M451.15 372.02L545.66 336.04" stroke="#ececec" stroke-width="0.6" fill="none"/>
<path d="M353.5 326L465.1 378.6L559.61 342.61M367.45 332.57l-2.24 0.85M475.05 374.81l2.51 1.18M395.35 345.73l-2.24 0.85M499.92 365.34l2.51 1.18M423.25 358.88l-2.24 0.85M524.79 355.87l2.51 1.18M451.15 372.02l-2.24 0.85M549.66 346.4l2.51 1.18" stroke="#9a9a9a" stroke-width="0.7" fill="none"/>
<path d="M353.5 326L353.5 236M353.5 326l-2 -1M353.5 281l-2 -1M353.5 236l-2 -1" stroke="#555" stroke-width="0.9" fill="none"/>
<polygon points="430.9,298.9 453.22,309.42 453.22,307.62 430.9,297.1" fill="#f9fb13" stroke="#1c1c1c" stroke-width="0.45" stroke-linejoin="round"/>
<polygon points="453.22,309.42 473.12,301.85 473.12,300.05 453.22,307.62" fill="#f9fb13" stroke="#1c1c1c" stroke-width="0.45" stroke-linejoin="round"/>
<polygon points="430.9,297.1 453.22,307.62 473.12,300.05 450.8,289.53" fill="#f9fb13" stroke="#1c1c1c" stroke-width="0.45" stroke-linejoin="round"/>
<polygon points="406.03,308.38 428.35,318.89 428.35,317.54 406.03,307.02" fill="#a3be6b" stroke="#1c1c1c" stroke-width="0.45" stroke-linejoin="round"/>
<polygon points="428.35,318.89 448.25,311.32 448.25,309.97 428.35,317.54" fill="#a3be6b" stroke="#1c1c1c" stroke-width="0.45" stroke-linejoin="round"/>
<polygon points="406.03,307.02 428.35,317.54 448.25,309.97 425.93,299.45" fill="#a3be6b" stroke="#1c1c1c" stroke-width="0.45" stroke-linejoin="round"/>
<polygon points="458.8,312.05 481.12,322.57 481.12,322.21 458.8,311.69" fill="#f9fb13" stroke="#1c1c1c" stroke-width="0.45" stroke-linejoin="round"/>
<polygon points="481.12,322.57 501.02,315 501.02,314.64 481.12,322.21" fill="#f9fb13" stroke="#1c1c1c" stroke-width="0.45" stroke-linejoin="round"/>
<polygon points="458.8,311.69 481.12,322.21 501.02,314.64 478.7,304.12" fill="#f9fb13" stroke="#1c1c1c" stroke-width="0.45" stroke-linejoin="round"/>
<polygon points="381.16,317.84 403.48,328.36 403.48,328 381.16,317.48" fill="#0a9cd2" stroke="#1c1c1c" stroke-width="0.45" stroke-linejoin="round"/>
<polygon points="403.48,328.36 423.38,320.79 423.38,320.43 403.48,328" fill="#0a9cd2" stroke="#1c1c1c" stroke-width="0.45" stroke-linejoin="round"/>
<polygon points="381.16,317.48 403.48,328 423.38,320.43 401.06,309.91" fill="#0a9cd2" stroke="#1c1c1c" stroke-width="0.45" stroke-linejoin="round"/>
<polygon points="433.93,321.52 456.25,332.05 456.25,331.69 433.93,321.16" fill="#a3be6b" stroke="#1c1c1c" stroke-width="0.45" stroke-linejoin="round"/>
<polygon points="456.25,332.05 476.15,324.47 476.15,324.11 456.25,331.69" fill="#a3be6b" stroke="#1c1c1c" stroke-width="0.45" stroke-linejoin="round"/>
<polygon points="433.93,321.16 456.25,331.69 476.15,324.11 453.83,313.59" fill="#a3be6b" stroke="#1c1c1c" stroke-width="0.45" stroke-linejoin="round"/>
<polygon points="486.7,325.2 509.02,335.72 509.02,335.36 486.7,324.84" fill="#f9fb13" stroke="#1c1c1c" stroke-width="0.45" stroke-linejoin="round"/>
<polygon points="509.02,335.72 528.92,328.15 528.92,327.79 509.02,335.36" fill="#f9fb13" stroke="#1c1c1c" stroke-width="0.45" stroke-linejoin="round"/>
<polygon points="486.7,324.84 509.02,335.36 528.92,327.79 506.6,317.27" fill="#f9fb13" stroke="#1c1c1c" stroke-width="0.45" stroke-linejoin="round"/>
<polygon points="356.29,327.31 378.61,337.83 378.61,337.47 356.29,326.95" fill="#352a87" stroke="#1c1c1c" stroke-width="0.45" stroke-linejoin="round"/>
<polygon points="378.61,337.83 398.51,330.26 398.51,329.9 378.61,337.47" fill="#352a87" stroke="#1c1c1c" stroke-width="0.45" stroke-linejoin="round"/>
<polygon points="356.29,326.95 378.61,337.47 398.51,329.9 376.19,319.38" fill="#352a87" stroke="#1c1c1c" stroke-width="0.45" stroke-linejoin="round"/>
<polygon points="409.06,330.99 431.38,341.51 431.38,341.15 409.06,330.63" fill="#0a9cd2" stroke="#1c1c1c" stroke-width="0.45" stroke-linejoin="round"/>
<polygon points="431.38,341.51 451.28,333.94 451.28,333.58 431.38,341.15" fill="#0a9cd2" stroke="#1c1c1c" stroke-width="0.45" stroke-linejoin="round"/>
<polygon points="409.06,330.63 431.38,341.15 451.28,333.58 428.96,323.06" fill="#0a9cd2" stroke="#1c1c1c" stroke-width="0.45" stroke-linejoin="round"/>
<polygon points="461.83,334.68 484.15,345.19 484.15,344.83 461.83,334.31" fill="#a3be6b" stroke="#1c1c1c" stroke-width="0.45" stroke-linejoin="round"/>
<polygon points="484.15,345.19 504.05,337.62 504.05,337.26 484.15,344.83" fill="#a3be6b" stroke="#1c1c1c" stroke-width="0.45" stroke-linejoin="round"/>
<polygon points="461.83,334.31 484.15,344.83 504.05,337.26 481.73,326.74" fill="#a3be6b" stroke="#1c1c1c" stroke-width="0.45" stroke-linejoin="round"/>
<polygon points="514.6,338.35 536.92,348.88 536.92,348.51 514.6,337.99" fill="#f9fb13" stroke="#1c1c1c" stroke-width="0.45" stroke-linejoin="round"/>
<polygon points="536.92,348.88 556.82,341.3 556.82,340.94 536.92,348.51" fill="#f9fb13" stroke="#1c1c1c" stroke-width="0.45" stroke-linejoin="round"/>
<polygon points="514.6,337.99 536.92,348.51 556.82,340.94 534.5,330.42" fill="#f9fb13" stroke="#1c1c1c" stroke-width="0.45" stroke-linejoin="round"/>
<polygon points="384.19,340.46 406.51,350.99 406.51,350.62 384.19,340.1" fill="#352a87" stroke="#1c1c1c" stroke-width="0.45" stroke-linejoin="round"/>
<polygon points="406.51,350.99 426.41,343.41 426.41,343.05 406.51,350.62" fill="#352a87" stroke="#1c1c1c" stroke-width="0.45" stroke-linejoin="round"/>
<polygon points="384.19,340.1 406.51,350.62 426.41,343.05 404.09,332.53" fill="#352a87" stroke="#1c1c1c" stroke-width="0.45" stroke-linejoin="round"/>
<polygon points="436.96,344.14 459.28,354.66 459.28,354.3 436.96,343.78" fill="#0a9cd2" stroke="#1c1c1c" stroke-width="0.45" stroke-linejoin="round"/>
<polygon points="459.28,354.66 479.18,347.09 479.18,346.73 459.28,354.3" fill="#0a9cd2" stroke="#1c1c1c" stroke-width="0.45" stroke-linejoin="round"/>
<polygon points="436.96,343.78 459.28,354.3 479.18,346.73 456.86,336.21" fill="#0a9cd2" stroke="#1c1c1c" stroke-width="0.45" stroke-linejoin="round"/>
<polygon points="489.73,347.82 512.05,358.35 512.05,356.1 489.73,345.57" fill="#a3be6b" stroke="#1c1c1c" stroke-width="0.45" stroke-linejoin="round"/>
<polygon points="512.05,358.35 531.95,350.77 531.95,348.52 512.05,356.1" fill="#a3be6b" stroke="#1c1c1c" stroke-width="0.45" stroke-linejoin="round"/>
<polygon points="489.73,345.57 512.05,356.1 531.95,348.52 509.63,338" fill="#a3be6b" stroke="#1c1c1c" stroke-width="0.45" stroke-linejoin="round"/>
<polygon points="412.09,353.62 434.41,364.13 434.41,363.77 412.09,353.25" fill="#352a87" stroke="#1c1c1c" stroke-width="0.45" stroke-linejoin="round"/>
<polygon points="434.41,364.13 454.31,356.56 454.31,356.2 434.41,363.77" fill="#352a87" stroke="#1c1c1c" stroke-width="0.45" stroke-linejoin="round"/>
<polygon points="412.09,353.25 434.41,363.77 454.31,356.2 431.99,345.68" fill="#352a87" stroke="#1c1c1c" stroke-width="0.45" stroke-linejoin="round"/>
<polygon points="464.86,357.29 487.18,367.81 487.18,367.45 464.86,356.93" fill="#0a9cd2" stroke="#1c1c1c" stroke-width="0.45" stroke-linejoin="round"/>
<polygon points="487.18,367.81 507.08,360.24 507.08,359.88 487.18,367.45" fill="#0a9cd2" stroke="#1c1c1c" stroke-width="0.45" stroke-linejoin="round"/>
<polygon points="464.86,356.93 487.18,367.45 507.08,359.88 484.76,349.36" fill="#0a9cd2" stroke="#1c1c1c" stroke-width="0.45" stroke-linejoin="round"/>
<polygon points="439.99,366.76 462.31,377.29 462.31,376.93 439.99,366.4" fill="#352a87" stroke="#1c1c1c" stroke-width="0.45" stroke-linejoin="round"/>
<polygon points="462.31,377.29 482.21,369.71 482.21,369.35 462.31,376.93" fill="#352a87" stroke="#1c1c1c" stroke-width="0.45" stroke-linejoin="round"/>
<polygon points="439.99,366.4 462.31,376.93 482.21,369.35 459.89,358.83" fill="#352a87" stroke="#1c1c1c" stroke-width="0.45" stroke-linejoin="round"/>
<g font-size="8.3" fill="#111" stroke="#111" stroke-width="0.12" text-anchor="end">
<text x="346.4" y="236.6">1</text>
<text x="347.6" y="282.6">0.5</text>
<text x="345.2" y="327">0</text>
</g>
<g font-size="8.4" fill="#111" stroke="#111" stroke-width="0.15" text-anchor="middle" font-style="italic">
<text x="355.6" y="343.8">UU</text>
<text x="384" y="357.5">UD</text>
<text x="414" y="370.8">DU</text>
<text x="442.4" y="383.7">DD</text>
<text x="486.4" y="387.8">UU</text>
<text x="512" y="378.1">UD</text>
<text x="536.8" y="368.5">DU</text>
<text x="563.5" y="358.8">DD</text>
</g>
<text x="524.5" y="225.6" font-size="8" fill="#111" stroke="#111" stroke-width="0.1">Imaginary part</text>
</g></svg>
</g>
</svg>
</body></html>
